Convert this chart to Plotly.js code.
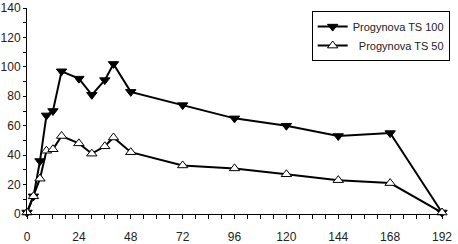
<!DOCTYPE html>
<html>
<head>
<meta charset="utf-8">
<script src="https://cdn.plot.ly/plotly-3.0.1.min.js"></script>
<style>html,body{margin:0;padding:0;background:#fff;}#chart{width:458px;height:244px;}</style>
</head>
<body>
<div id="chart"></div>
<script>
var hours = [0, 3, 6, 9, 12, 16, 24, 30, 36, 40, 48, 72, 96, 120, 144, 168, 192];
var ts100 = [1, 12, 36, 67, 70, 97, 92, 81, 91, 102, 83, 74, 65, 60, 53, 55, 1];
var ts50  = [1, 12, 24, 43, 44, 53, 48, 41, 46, 52, 42, 33, 31, 27, 23, 21, 1];
var seriesNames = ["Progynova TS 100", "\u00a0\u00a0Progynova TS 50"];
var xTicks = [0, 24, 48, 72, 96, 120, 144, 168, 192];
var yTicks = [0, 20, 40, 60, 80, 100, 120, 140];

var traces = [
  {x: hours, y: ts100, name: seriesNames[0], type: 'scatter', mode: 'lines+markers', cliponaxis: false,
   line: {color: '#000', width: 2},
   marker: {symbol: 'triangle-down', size: 9, color: '#000', line: {color: '#000', width: 1}}},
  {x: hours, y: ts50, name: seriesNames[1], type: 'scatter', mode: 'lines+markers', cliponaxis: false,
   line: {color: '#000', width: 2},
   marker: {symbol: 'triangle-up', size: 9, color: '#fff', line: {color: '#000', width: 1}}}
];

var layout = {
  width: 458, height: 244,
  margin: {l: 27, r: 14, t: 8, b: 30},
  paper_bgcolor: '#fff', plot_bgcolor: '#fff',
  font: {family: 'Liberation Sans, Arial, sans-serif', size: 12, color: '#222'},
  showlegend: true,
  legend: {x: 0.686, y: 0.985, xanchor: 'left', yanchor: 'top', bordercolor: '#000', borderwidth: 1,
           bgcolor: '#fff', font: {size: 11, color: '#222'}, tracegroupgap: 0},
  xaxis: {range: [0, 192], tickvals: xTicks, ticktext: xTicks.map(String), showgrid: false, zeroline: false,
          showline: true, linecolor: '#000', linewidth: 1, ticks: 'outside', ticklen: 4, tickcolor: '#000',
          ticklabelstandoff: 8, ticklabeloverflow: 'allow',
          minor: {dtick: 6, tick0: 0, ticks: 'outside', ticklen: 4, tickcolor: '#000', showgrid: false}},
  yaxis: {range: [0, 140], tickvals: yTicks, ticktext: yTicks.map(String), showgrid: false, zeroline: false,
          showline: true, linecolor: '#000', linewidth: 1, ticks: 'outside', ticklen: 3, tickcolor: '#000',
          ticklabeloverflow: 'allow',
          minor: {dtick: 10, tick0: 0, ticks: 'outside', ticklen: 3, tickcolor: '#000', showgrid: false}}
};

Plotly.newPlot('chart', traces, layout, {staticPlot: true, displayModeBar: false});
</script>
</body>
</html>
